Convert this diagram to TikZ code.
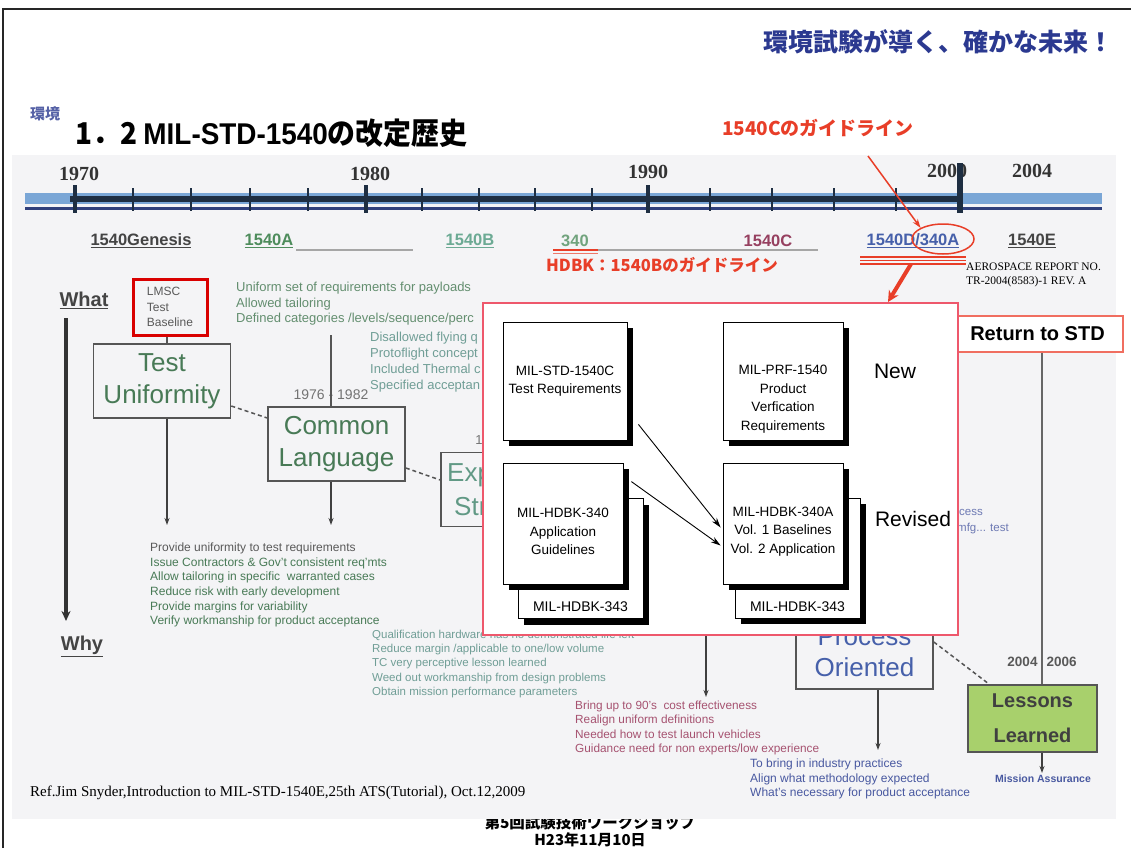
\documentclass[tikz,border=0pt]{standalone}
\usepackage{fontspec}
\setmainfont{Liberation Serif}
\setsansfont{Liberation Sans}
\newfontfamily\jpfont{Noto Sans CJK JP}
\usetikzlibrary{positioning,arrows.meta,shapes.geometric,shadows}
\definecolor{hdblue}{RGB}{43,57,144}
\definecolor{jpred}{RGB}{232,62,40}
\definecolor{scanbg}{RGB}{244,244,246}
\definecolor{barlight}{RGB}{122,166,214}
\definecolor{bardark}{RGB}{30,46,66}
\definecolor{barline}{RGB}{48,64,124}
\definecolor{vgray}{RGB}{68,68,68}
\definecolor{vgreen}{RGB}{78,140,92}
\definecolor{vteal}{RGB}{108,170,148}
\definecolor{vmaroon}{RGB}{150,64,96}
\definecolor{vblue}{RGB}{70,96,170}
\definecolor{boxgray}{RGB}{85,85,85}
\definecolor{txtgreen}{RGB}{72,122,86}
\definecolor{txtteal}{RGB}{112,158,150}
\definecolor{txtmaroon}{RGB}{166,82,112}
\definecolor{txtblue}{RGB}{72,88,160}
\definecolor{lessgreen}{RGB}{168,208,108}
\definecolor{pinkred}{RGB}{238,88,108}
\definecolor{stdred}{RGB}{240,110,96}
\newcommand{\sz}[2]{\fontsize{#1}{#2}\selectfont}

\tikzset{
  plain/.style={inner sep=0pt, font=\sffamily},
  jptext/.style={inner sep=0pt, font=\jpfont\bfseries},
  year/.style={inner sep=0pt, font=\rmfamily\bfseries\sz{20}{22}, text=black!80},
  verlabel/.style={inner sep=0pt, font=\sffamily\bfseries\sz{16.5}{20}},
  tickmin/.style={draw=bardark, line width=1.5pt},
  tickmaj/.style={draw=bardark, line width=4pt},
  linebox/.style={draw=boxgray, line width=1.6pt, minimum width=137pt, minimum height=74pt, align=center, inner sep=0pt, font=\sffamily\sz{26}{32}},
  docbox/.style={draw=black, fill=white, line width=0.8pt, minimum width=120pt, minimum height=120pt, inner sep=0pt,
    drop shadow={shadow xshift=6pt, shadow yshift=-6pt, fill=black, opacity=1}},
  doctext/.style={align=center, inner sep=0pt, font=\sffamily\sz{13.5}{18.5}},
  notes/.style={anchor=west, inner sep=0pt, align=left, font=\sffamily\sz{12}{14.6}},
  dashlink/.style={draw=boxgray, line width=1.5pt, dash pattern=on 4pt off 3pt},
  downarrow/.style={draw=black!75, line width=1.2pt, -{Stealth[length=7pt,width=5pt]}},
  docarrow/.style={draw=black, line width=0.9pt, -{Stealth[length=10pt,width=6pt]}},
  redarrow/.style={draw=jpred, line width=1.5pt, -{Stealth[length=9pt,width=6pt]}}
}

\begin{document}
\begin{tikzpicture}[x=1pt,y=-1pt]
\useasboundingbox (0,0) rectangle (1131,848);

% footer, half hidden under the scan
\node[jptext, font=\jpfont\sz{15.5}{18}] (workshop) at (590,823) {\textbf{第5回試験技術ワークショップ}};
\node[jptext, font=\jpfont\sz{15}{18}] (date) at (590,840) {\textbf{H23年11月10日}};
\fill[scanbg] (12,155) rectangle (1116,819);
\draw[black!85, line width=2pt] (3,848) -- (3,9) -- (1131,9);

\node[jptext, font=\jpfont\bfseries\sz{25}{28}, text=hdblue] (motto) at (938,42) {環境試験が導く、確かな未来！};
\node[jptext, font=\jpfont\bfseries\sz{15}{18}, text=hdblue!80] (corner) at (45,114) {環境};
\node[jptext, font=\jpfont\bfseries\sz{30}{32}, anchor=west] (title) at (75,133)
  {\scalebox{0.93}[1]{1．2 {\sffamily\bfseries MIL-STD-1540}の改定歴史}};
\node[jptext, font=\jpfont\bfseries\sz{19}{22}, text=jpred] (guideC) at (818,128) {1540Cのガイドライン};

% time line
\fill[barlight] (25,193) rectangle (1102,204);
\fill[bardark] (70,195.5) rectangle (958,201.5);
\fill[barline] (25,207) rectangle (1102,210);
\foreach \t in {133,191,250,308,422,479,535,592,710,772,834,896}
  \draw[tickmin] (\t,188) -- (\t,211);
\foreach \t in {75,366,648}
  \draw[tickmaj] (\t,185) -- (\t,213);
\node[year] (y1970) at (79,174) {1970};
\node[year] (y1980) at (370,174) {1980};
\node[year] (y1990) at (648,172) {1990};
\node[year] (y2000) at (947,171) {2000};
\node[year] (y2004) at (1032,171) {2004};
\draw[tickmaj, line width=6pt] (960,163) -- (960,213);

\node[verlabel, text=vgray] (vgen) at (141,241) {\underline{1540Genesis}};
\node[verlabel, text=vgreen] (va) at (269,241) {\underline{1540A}};
\node[verlabel, text=vteal] (vb) at (470,241) {\underline{1540B}};
\node[verlabel, text=vgreen!80] (v340) at (575,241) {340};
\node[verlabel, text=vmaroon] (vc) at (768,241) {1540C};
\node[verlabel, text=vblue] (vd) at (913,241) {\underline{1540D/340A}};
\node[verlabel, text=vgray] (ve) at (1032,241) {\underline{1540E}};
\draw[gray!70, line width=1.2pt] (296,250) -- (413,250);
\draw[gray!70, line width=1.2pt] (590,250) -- (818,250);
\draw[jpred, line width=1.5pt] (553,250) -- (598,250);
\draw[jpred!70, line width=1pt] (553,253.5) -- (598,253.5);
\node[draw=jpred, line width=1.5pt, ellipse, minimum width=62pt, minimum height=30pt] (ell) at (943,239) {};
\draw[redarrow] (868,156) -- (ell.north west);
\foreach \yy in {257,260.5,264}
  \draw[jpred, line width=1.3pt] (860,\yy) -- (966,\yy);
\node[jptext, font=\jpfont\bfseries\sz{16.5}{20}, text=jpred] (guideB) at (662,265) {HDBK：1540Bのガイドライン};
\node[inner sep=0pt, anchor=west, align=left, font=\rmfamily\sz{11.5}{14}] (aero) at (966,275) {AEROSPACE REPORT NO.\\TR-2004(8583)-1 REV. A};

% what / why
\node[plain, font=\sffamily\bfseries\sz{20}{22}, text=vgray] (what) at (84,300) {\underline{What}};
\node[plain, font=\sffamily\bfseries\sz{20}{22}, text=vgray] (why) at (82,646) {\underline{Why}};
\coordinate (whattop) at (66,318);
\coordinate (whatend) at (66,621);
\draw[black!80, line width=3.5pt, -{Stealth[length=10pt,width=9pt]}] (whattop) -- (whatend);

\node[draw=red!85!black, line width=3pt, minimum width=74pt, minimum height=56pt, align=left, inner sep=0pt,
  font=\sffamily\sz{12}{15.5}, text=black!65] (lmsc) at (170,307) {LMSC\\Test\\Baseline};
\node[linebox, text=txtgreen] (tu) at (162,381) {Test\\Uniformity};
\node[linebox, text=txtgreen] (cl) at (336.5,444) {Common\\Language};
\node[linebox] (exp) at (509.5,489.5) {};
\node[plain, font=\sffamily\sz{26}{30}, text=vteal!90!black, anchor=west] (expa) at (447,475) {Exp};
\node[plain, font=\sffamily\sz{26}{30}, text=vteal!90!black, anchor=west] (expb) at (454,507) {Str};
\node[plain, font=\sffamily\sz{13}{15}, text=black!55] (yr87) at (479,440) {1};
\node[plain, font=\sffamily\sz{14}{16}, text=black!55] (yr7682) at (331,395) {1976 - 1982};
\coordinate (cltop) at (331,335);
\coordinate (tuend) at (167,525);
\coordinate (clend) at (331,525);
\draw[boxgray, line width=1.5pt] (lmsc.south -| tuend) -- (tu.north -| tuend);
\draw[boxgray, line width=1.5pt] (cltop) -- (cl.north -| cltop);
\draw[dashlink] ([yshift=-25pt]tu.east) -- ([yshift=26pt]cl.west);
\draw[dashlink] ([yshift=-24pt]cl.east) -- ([yshift=9.5pt]exp.west);
\draw[downarrow] (tu.south -| tuend) -- (tuend);
\draw[downarrow] (cl.south -| clend) -- (clend);

\node[notes, font=\sffamily\sz{13}{15.5}, text=txtgreen!85] (n1) at (236,304) {Uniform set of requirements for payloads\\Allowed tailoring\\Defined categories /levels/sequence/perc};
\node[notes, font=\sffamily\sz{13}{16}, text=txtteal] (n2) at (370,362) {Disallowed flying q\\Protoflight concept\\Included Thermal c\\Specified acceptan};
\node[notes, text=txtgreen] (n3) at (150,585) {\textcolor{black!65}{Provide uniformity to test requirements}\\Issue Contractors \& Gov't consistent req'mts\\Allow tailoring in specific\ \ warranted cases\\Reduce risk with early development\\Provide margins for variability\\Verify workmanship for product acceptance};
\node[notes, font=\sffamily\sz{11.5}{14.3}, text=txtteal] (n4) at (372,664) {Qualification hardware has no demonstrated life left\\Reduce margin /applicable to one/low volume\\TC very perceptive lesson learned\\Weed out workmanship from design problems\\Obtain mission performance parameters};
\node[notes, font=\sffamily\sz{11.8}{14.4}, text=txtmaroon] (n5) at (575,728) {Bring up to 90's\ \ cost effectiveness\\Realign uniform definitions\\Needed how to test launch vehicles\\Guidance need for non experts/low experience};
\node[notes, text=txtblue] (n6) at (750,779) {To bring in industry practices\\Align what methodology expected\\What's necessary for product acceptance};
\node[notes, font=\sffamily\sz{11.5}{16}, text=txtblue!80] (n7) at (957,522) {\hspace{2pt}cess\\mfg... test};

\node[linebox, text=vblue, font=\sffamily\sz{26}{31}] (po) at (864.5,652) {Process\\Oriented};
\coordinate (midend) at (706,697);
\coordinate (midtop) at (706,636);
\coordinate (poend) at (878,750);
\draw[downarrow] (midtop) -- (midend);
\draw[downarrow] (po.south -| poend) -- (poend);

\node[draw=stdred, line width=1.6pt, fill=white, minimum width=171pt, minimum height=36pt, inner sep=0pt,
  font=\sffamily\bfseries\sz{20}{22}] (rts) at (1037.5,334) {Return to STD};
\node[draw=boxgray, line width=1.6pt, fill=lessgreen, minimum width=129pt, minimum height=67pt, align=center, inner sep=0pt,
  font=\sffamily\bfseries\sz{20}{35}, text=black!75] (ll) at (1032.5,718.5) {Lessons\\Learned};
\node[plain, font=\sffamily\bfseries\sz{13.5}{16}, text=black!65] (yr0406) at (1042,662) {2004\hspace{9pt}2006};
\coordinate (llend) at (1042,773);
\draw[gray!80!black, line width=1.5pt] (rts.south -| llend) -- (ll.north -| llend);
\draw[downarrow] (ll.south -| llend) -- (llend);
\draw[dashlink] ([yshift=10pt]po.east) -- ([xshift=22pt]ll.north west);
\node[plain, font=\sffamily\bfseries\sz{10.5}{12}, text=txtblue] (assure) at (1043,779) {Mission Assurance};

% inserted figure
\node[draw=pinkred, line width=2pt, fill=white, minimum width=475pt, minimum height=332pt, inner sep=0pt] (wbox) at (720.5,469) {};
\coordinate (thicktop) at (911,264);
\draw[jpred, line width=4pt, -{Stealth[length=11pt,width=11pt]}] (thicktop) -- ([xshift=167.5pt]wbox.north);

\node[docbox, minimum width=125pt] (b343l) at (580.5,558.5) {};
\node[doctext, font=\sffamily\sz{14}{16}, above=7pt of b343l.south] (b343lt) {MIL-HDBK-343};
\node[docbox, minimum width=125pt] (b343r) at (797.5,558) {};
\node[doctext, font=\sffamily\sz{14}{16}, above=7pt of b343r.south] (b343rt) {MIL-HDBK-343};

\node[docbox, minimum width=124pt, minimum height=118pt] (std) at (565,381) {};
\node[doctext] (stdt) at (std.center) {MIL-STD-1540C\\Test Requirements};
\node[docbox, minimum height=118pt] (prf) at (783,381) {};
\node[doctext] (prft) at ([yshift=-18pt]prf.center) {MIL-PRF-1540\\Product\\Verfication\\Requirements};
\node[docbox, minimum height=121pt] (hdbk) at (563,523.5) {};
\node[doctext] (hdbkt) at ([yshift=-8pt]hdbk.center) {MIL-HDBK-340\\Application\\Guidelines};
\node[docbox, minimum height=121pt] (hdbka) at (783,523.5) {};
\node[doctext] (hdbkat) at ([yshift=-8pt]hdbka.center) {MIL-HDBK-340A\\Vol. 1 Baselines\\Vol. 2 Application};

\node[plain, font=\sffamily\sz{21}{24}] (new) at (895,371) {New};
\node[plain, font=\sffamily\sz{21}{24}] (revised) at (913,519) {Revised};

\draw[docarrow] ([shift={(11,-16)}]std.south east) -- ([shift={(-2,4)}]hdbka.west);
\draw[docarrow] ([shift={(8,19)}]hdbk.north east) -- ([shift={(-2,22)}]hdbka.west);

\node[inner sep=0pt, anchor=west, font=\rmfamily\sz{15}{18}] (ref) at (30,793) {Ref.Jim Snyder,Introduction to MIL-STD-1540E,25th ATS(Tutorial), Oct.12,2009};
\end{tikzpicture}
\end{document}
